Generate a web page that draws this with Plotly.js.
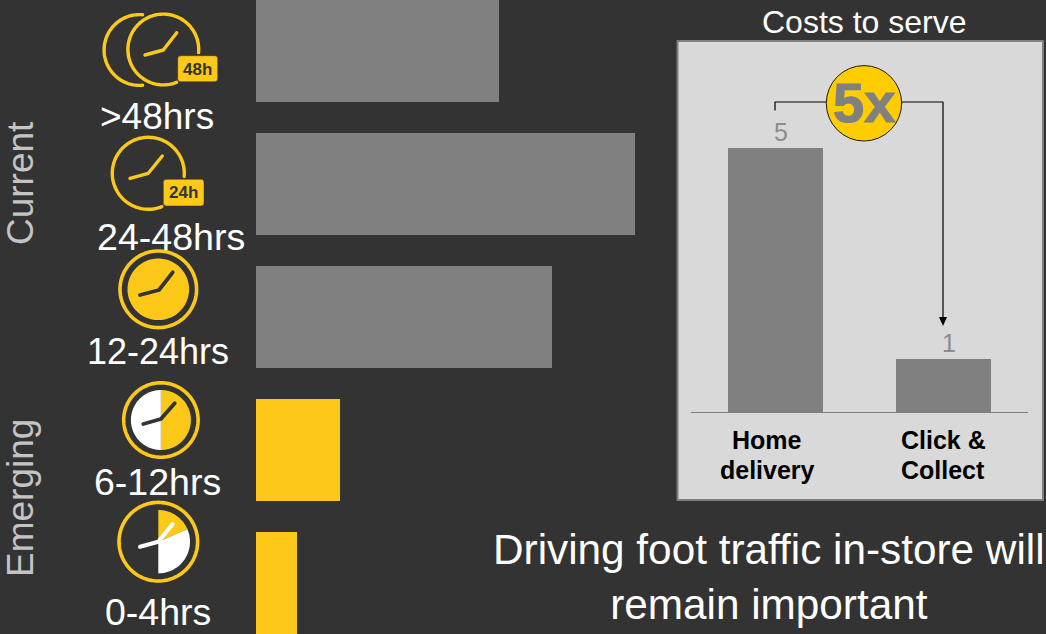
<!DOCTYPE html>
<html>
<head>
<meta charset="utf-8">
<script src="https://cdn.plot.ly/plotly-3.0.1.min.js"></script>
<style>html,body{margin:0;padding:0;background:#333333;overflow:hidden}</style>
</head>
<body>
<div id="chart" style="width:1046px;height:634px"></div>
<script>
// Fulfilment windows and their relative volumes
const windows = ['>48hrs', '24-48hrs', '12-24hrs', '6-12hrs', '0-4hrs'];
const windowValues = [243, 379, 296, 84, 41];
const windowColors = ['#808080', '#808080', '#808080', '#FDC918', '#FDC918'];

// Cost to serve by channel
const channels = ['Home delivery', 'Click & Collect'];
const channelLines = [['Home', 'delivery'], ['Click &', 'Collect']];
const costValues = [5, 1];

const W = 1046, H = 634;
const FONT = '"Liberation Sans", Arial, sans-serif';
const YELLOW = '#FDC918', DARK = '#333333', WHITE = '#FFFFFF';
const px = x => x / W;
const py = y => 1 - y / H;

// Shape in page pixels, expressed through the paper reference
const pathShape = (d, opts) => Object.assign({type: 'path', xref: 'paper', yref: 'paper', path: d, layer: 'above'}, opts);
const pt = (x, y) => px(x).toFixed(5) + ',' + py(y).toFixed(5);

// Polyline arc; angles in degrees clockwise from twelve o'clock
function arcPts(cx, cy, r, a0, a1) {
  const n = Math.max(8, Math.ceil(Math.abs(a1 - a0) / 3)), out = [];
  for (let i = 0; i <= n; i++) {
    const a = (a0 + (a1 - a0) * i / n) * Math.PI / 180;
    out.push(pt(cx + r * Math.sin(a), cy - r * Math.cos(a)));
  }
  return out;
}
const stroke = (pts, color, width) => pathShape('M' + pts.join('L'), {line: {color, width}, fillcolor: 'rgba(0,0,0,0)'});
const wedge = (cx, cy, r, a0, a1, color) => pathShape('M' + pt(cx, cy) + 'L' + arcPts(cx, cy, r, a0, a1).join('L') + 'Z', {fillcolor: color, line: {width: 0}});
const hands = (p, color, width) => stroke(p.map(q => pt(q[0], q[1])), color, width);

function badge(x0, y0, x1, y1) {
  const r = 3;
  const d = 'M' + pt(x0 + r, y0) + 'L' + pt(x1 - r, y0) + 'Q' + pt(x1, y0) + ' ' + pt(x1, y0 + r) +
    'L' + pt(x1, y1 - r) + 'Q' + pt(x1, y1) + ' ' + pt(x1 - r, y1) +
    'L' + pt(x0 + r, y1) + 'Q' + pt(x0, y1) + ' ' + pt(x0, y1 - r) +
    'L' + pt(x0, y0 + r) + 'Q' + pt(x0, y0) + ' ' + pt(x0 + r, y0) + 'Z';
  return pathShape(d, {fillcolor: YELLOW, line: {color: DARK, width: 0.5}});
}

const shapes = [];

// Grey panel behind the cost chart
shapes.push({type: 'rect', xref: 'paper', yref: 'paper', layer: 'below',
  x0: px(677.5), x1: px(1043), y0: py(41), y1: py(500),
  fillcolor: '#D9D9D9', line: {color: '#7F7F7F', width: 2}});

// Clock icons
shapes.push(stroke(arcPts(139.5, 50, 35.4, 5, -185), YELLOW, 3.4));
shapes.push(stroke(arcPts(163.3, 49.5, 35.4, 95, -202), YELLOW, 3.4));
shapes.push(hands([[145, 55], [163.3, 50], [176.7, 32.7]], YELLOW, 3.4));
shapes.push(badge(177.7, 55.7, 217.7, 81.7));

shapes.push(stroke(arcPts(148.3, 173.3, 36, 95, -202), YELLOW, 3.4));
shapes.push(hands([[130, 178.3], [148.3, 173.3], [162.3, 156]], YELLOW, 3.4));
shapes.push(badge(163.3, 179.3, 204, 206));

shapes.push(stroke(arcPts(158.3, 289.3, 38.3, 0, 360), YELLOW, 3.6));
shapes.push(wedge(158.3, 289.3, 30.8, 0, 360, YELLOW));
shapes.push(hands([[140, 295], [159, 290], [172.7, 272.3]], DARK, 3.8));

shapes.push(stroke(arcPts(160.9, 420, 37.2, 0, 360), YELLOW, 3.6));
shapes.push(wedge(160.9, 420, 30, 0, 180, YELLOW));
shapes.push(wedge(160.9, 420, 30, 180, 360, WHITE));
shapes.push(hands([[143.3, 424], [160.9, 419], [174.7, 403.3]], DARK, 3.8));

shapes.push(stroke(arcPts(158.3, 541.7, 39.3, 0, 360), YELLOW, 3.6));
shapes.push(wedge(158.3, 541.7, 31.7, 0, 67, YELLOW));
shapes.push(wedge(158.3, 541.7, 31.7, 67, 180, WHITE));
shapes.push(hands([[140, 546.7], [158.3, 541.7], [172.7, 524]], WHITE, 4));

// Bracket linking the two bars, broken by the multiplier badge
shapes.push(stroke([pt(775, 110), pt(775, 102), pt(943, 102), pt(943, 318)], '#000000', 1.2));
shapes.push(pathShape('M' + pt(939, 317) + 'L' + pt(947, 317) + 'L' + pt(943, 326) + 'Z', {fillcolor: '#000000', line: {width: 0}}));
shapes.push({type: 'circle', xref: 'paper', yref: 'paper', layer: 'above',
  x0: px(826.3), x1: px(901.7), y0: py(65.6), y1: py(141), fillcolor: '#FFCC00', line: {color: '#1A1A1A', width: 1}});

const label = (text, x, y, size, color, extra) => Object.assign({
  text, x: px(x), y: py(y), xref: 'paper', yref: 'paper', showarrow: false,
  xanchor: 'center', yanchor: 'middle', font: {family: FONT, size, color}
}, extra || {});

const labelPos = [[157, 117], [170.5, 237], [157.5, 351], [157, 482], [157.5, 612]];
const labelSizes = [37, 37.6, 36, 37.5, 37.5];
const annotations = windows.map((t, i) => label(t, labelPos[i][0], labelPos[i][1], labelSizes[i], WHITE));
annotations.push(
  label('Current', 20, 183, 37, '#C4C4C4', {textangle: -90}),
  label('Emerging', 20, 498, 37, '#C4C4C4', {textangle: -90}),
  label('Costs to serve', 864.5, 22, 32, WHITE),
  label('<b>48h</b>', 197.5, 69, 17, DARK),
  label('<b>24h</b>', 183.5, 192.7, 17, DARK),
  label('<b>5x</b>', 864, 102, 56, '#808080'),
  label('Driving foot traffic in-store will<br>remain important', 769, 577, 42.3, WHITE)
);

// Category captions under the cost bars
const captionX = [767, 943];
channelLines.forEach((lines, i) => lines.forEach((line, j) =>
  annotations.push(label('<b>' + line + '</b>', captionX[i], 440 + 30 * j, 25, '#000000'))));

// Value captions above the cost bars, read from the same series
costValues.forEach((v, i) => annotations.push({
  text: String(v), x: channels[i], y: v, xref: 'x2', yref: 'y2', showarrow: false,
  xanchor: 'center', yanchor: 'bottom', xshift: 5.5,
  font: {family: FONT, size: 25, color: '#8C8C8C'}
}));

const traces = [
  {
    type: 'bar', orientation: 'h', x: windowValues, y: windows,
    marker: {color: windowColors, line: {width: 0}}, width: 102 / 133,
    xaxis: 'x', yaxis: 'y', hoverinfo: 'skip'
  },
  {
    type: 'bar', x: channels, y: costValues,
    marker: {color: '#808080', line: {width: 0}}, width: 0.565,
    xaxis: 'x2', yaxis: 'y2', hoverinfo: 'skip'
  }
];

const layout = {
  width: W, height: H, showlegend: false,
  margin: {l: 0, r: 0, t: 0, b: 0},
  paper_bgcolor: DARK, plot_bgcolor: 'rgba(0,0,0,0)',
  xaxis: {domain: [256 / W, 1], range: [0, 790], visible: false, fixedrange: true},
  yaxis: {domain: [0, 1], type: 'category', categoryorder: 'array', categoryarray: windows,
          range: [4.383, -0.383], visible: false, fixedrange: true},
  xaxis2: {domain: [691 / W, 1028 / W], anchor: 'y2', range: [-0.5, 1.5], type: 'category',
           categoryorder: 'array', categoryarray: channels, showgrid: false, zeroline: false,
           showline: true, linecolor: '#7F7F7F', linewidth: 1, ticks: '', showticklabels: false,
           fixedrange: true},
  yaxis2: {domain: [(H - 412) / H, (H - 100) / H], anchor: 'x2', range: [0, 312 / 52.8],
           visible: false, fixedrange: true},
  bargap: 0, shapes, annotations
};

Plotly.newPlot('chart', traces, layout, {displayModeBar: false, staticPlot: true}).then(gd => {
  // Rounded ends on the clock hands and arcs
  gd.querySelectorAll('.shapelayer path').forEach(p => {
    p.style.strokeLinecap = 'round';
    p.style.strokeLinejoin = 'round';
  });
  // Heavier outline on the multiplier figure
  gd.querySelectorAll('.annotation-text').forEach(t => {
    if (t.textContent === '5x') {
      t.style.stroke = '#808080';
      t.style.strokeWidth = '1.2px';
    }
  });
});
</script>
</body>
</html>
